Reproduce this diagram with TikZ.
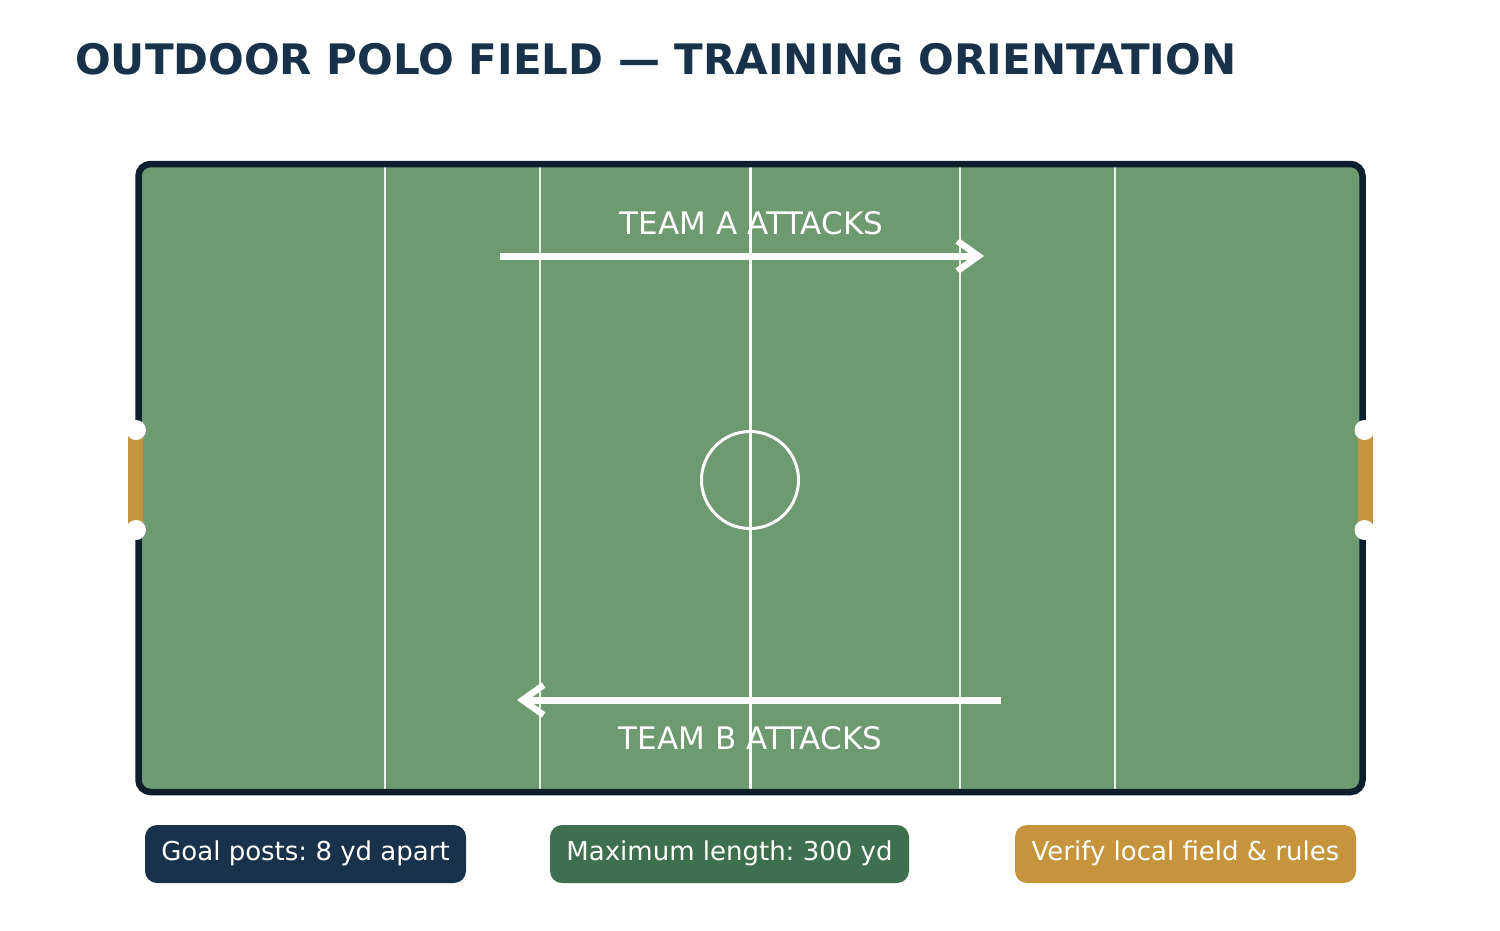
\documentclass[tikz,border=0pt]{standalone}
\usepackage{fontspec}
\setmainfont{DejaVu Sans}
\usetikzlibrary{arrows.meta}
\frenchspacing
\definecolor{titlec}{HTML}{17324A}
\definecolor{fieldc}{HTML}{6E9A6F}
\definecolor{borderc}{HTML}{0D1F2C}
\definecolor{goldc}{HTML}{C6943C}
\definecolor{greenc}{HTML}{3E7050}
\definecolor{navyc}{HTML}{17324A}
\tikzset{
  yardline/.style={draw=white, draw opacity=0.85, line width=2pt},
  midline/.style={draw=white, line width=3pt},
  attackarrow/.style={draw=white, line width=7pt, -{Straight Barb[length=21pt,width=30pt,line width=6.5pt]}},
  attacktext/.style={text=white, font=\fontsize{31}{37}\selectfont, inner sep=0pt, anchor=base},
  infobox/.style={rounded corners=12pt, minimum height=58pt, inner sep=0pt, text=white,
     font=\fontsize{26}{31}\selectfont, text height=19pt, text depth=6pt},
  postdot/.style={circle, fill=white, inner sep=0pt, minimum size=20pt},
  goalbar/.style={fill=goldc, draw=none}
}
\begin{document}
\begin{tikzpicture}[x=1pt,y=-1pt]
\useasboundingbox (0,0) rectangle (1500,930);
\fill[white] (0,0) rectangle (1500,930);
% title
\node[anchor=base west, inner sep=0pt, text=titlec, font=\fontsize{42}{50}\selectfont\bfseries] (title) at (75,74) {OUTDOOR POLO FIELD — TRAINING ORIENTATION};
% field
\fill[fieldc, rounded corners=12pt] (138.5,164) rectangle (1362.5,792);
\foreach \x/\n in {385/l1,540/l2,960/l4,1115/l5}{
  \coordinate (\n t) at (\x,164);
  \coordinate (\n b) at (\x,792);
  \draw[yardline] (\n t) -- (\n b);
}
\coordinate (midt) at (750,164);
\coordinate (midb) at (750,792);
\draw[midline] (midt) -- (midb);
\node[circle, draw=white, line width=3pt, minimum size=97pt, inner sep=0pt] (centre) at (750,480) {};
% arrows
\coordinate (aS) at (500,256);
\coordinate (aE) at (984,256);
\draw[attackarrow] (aS) -- (aE);
\node[attacktext] (atext) at (751.5,234.3) {TEAM A ATTACKS};
\coordinate (bS) at (1001,700);
\coordinate (bE) at (517,700);
\draw[attackarrow] (bS) -- (bE);
\node[attacktext] (btext) at (750.5,749.3) {TEAM B ATTACKS};
% border
\draw[borderc, line width=6.5pt, rounded corners=12pt] (138.5,164) rectangle (1362.5,792);
% goals
\fill[goalbar] (128,430) rectangle (143,530);
\node[postdot] (lp1) at (136,430) {};
\node[postdot] (lp2) at (136,530) {};
\fill[goalbar] (1358,430) rectangle (1373,530);
\node[postdot] (rp1) at (1364.5,430) {};
\node[postdot] (rp2) at (1364.5,530) {};
% info boxes
\node[infobox, fill=navyc, minimum width=321pt] (box1) at (305.5,854) {Goal posts: 8 yd apart};
\node[infobox, fill=greenc, minimum width=359pt] (box2) at (729.5,854) {Maximum length: 300 yd};
\node[infobox, fill=goldc, minimum width=341pt] (box3) at (1185.5,854) {Verify local field \& rules};
\end{tikzpicture}
\end{document}
